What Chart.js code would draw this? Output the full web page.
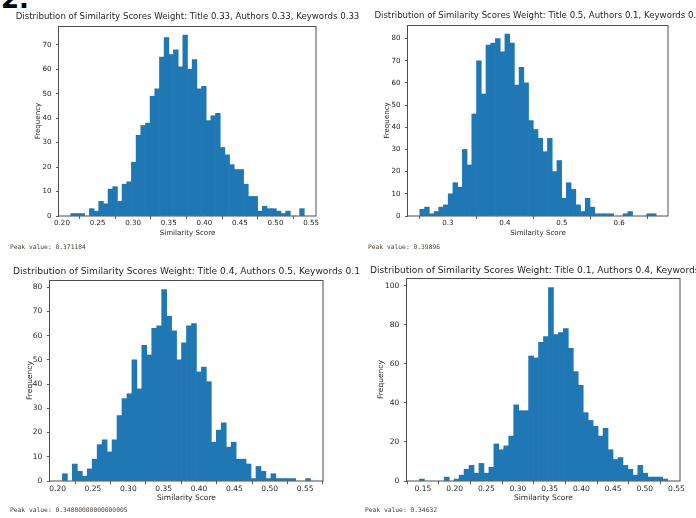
<!DOCTYPE html>
<html>
<head>
<meta charset="utf-8">
<script src="https://cdn.jsdelivr.net/npm/chart.js@4.4.1/dist/chart.umd.min.js"></script>
<style>
  html, body { margin:0; padding:0; background:#ffffff; width:696px; height:518px; overflow:hidden; }
  body { position:relative; font-family:'DejaVu Sans', sans-serif; }
  canvas { position:absolute; }
  .heading { position:absolute; left:1px; top:-14px; font-family:'DejaVu Sans', sans-serif; font-weight:bold; font-size:26px; line-height:1; color:#000; }
  .peak { position:absolute; font-family:'DejaVu Sans Mono', monospace; font-size:6.3px; line-height:1; color:#4a4038; white-space:pre; }
</style>
</head>
<body>
<div class="heading">2.</div>
<canvas id="hist1"></canvas>
<canvas id="hist2"></canvas>
<canvas id="hist3"></canvas>
<canvas id="hist4"></canvas>
<script>
// ---------------- data ----------------
const chartTitles = [
  'Distribution of Similarity Scores Weight: Title 0.33, Authors 0.33, Keywords 0.33',
  'Distribution of Similarity Scores Weight: Title 0.5, Authors 0.1, Keywords 0.4',
  'Distribution of Similarity Scores Weight: Title 0.4, Authors 0.5, Keywords 0.1',
  'Distribution of Similarity Scores Weight: Title 0.1, Authors 0.4, Keywords 0.5'
];
const xAxisLabel = 'Similarity Score';
const yAxisLabel = 'Frequency';
const peakValues = ['0.371184', '0.39896', '0.34880000000000005', '0.34632'];

// lowest and highest bin edge of each histogram (50 bins)
const binEdges1 = [0.2122, 0.5405];
const binEdges2 = [0.2510, 0.6650];
const binEdges3 = [0.2068, 0.5578];
const binEdges4 = [0.1444, 0.5360];

const frequencies1 = [1,1,1,0,3,2,6,5,11,12, 6,13,14,22,33,37,38,49,52,65, 73,66,68,61,74,60,64,52,53,39, 41,42,28,25,21,19,19,13,8,8, 2,4,3,3,2,1,2,0,0,3];
const frequencies2 = [3,4,1,2,4,5,10,15,13,30, 23,46,70,55,77,78,80,74,82,78, 59,67,60,43,39,35,29,35,20,25, 8,15,12,5,2,8,4,1,1,1, 1,0,0,1,2,0,0,0,1,1];
const frequencies3 = [3,0,7,4,2,5,9,15,17,12, 17,27,34,36,50,38,56,52,63,64, 79,68,62,50,57,64,65,45,47,41, 16,21,24,14,16,9,9,7,1,6, 4,1,3,1,1,1,1,0,0,1];
const frequencies4 = [1,0,0,0,0,2,0,1,3,6, 8,4,9,4,7,19,16,18,23,39, 36,36,64,63,71,74,99,75,76,78, 68,56,49,35,31,28,23,27,16,11, 12,8,6,3,8,4,2,2,2,1];

const xTickLabels1 = ['0.20','0.25','0.30','0.35','0.40','0.45','0.50','0.55'];
const xTickLabels2 = ['0.3','0.4','0.5','0.6'];
const xTickLabels3 = ['0.20','0.25','0.30','0.35','0.40','0.45','0.50','0.55'];
const xTickLabels4 = ['0.15','0.20','0.25','0.30','0.35','0.40','0.45','0.50','0.55'];

const yTickLabels1 = ['0','10','20','30','40','50','60','70'];
const yTickLabels2 = ['0','10','20','30','40','50','60','70','80'];
const yTickLabels3 = ['0','10','20','30','40','50','60','70','80'];
const yTickLabels4 = ['0','20','40','60','80','100'];

// ---------------- layout & style ----------------
const FONT = "'DejaVu Sans', sans-serif";
const TEXT_COLOR = '#262626';
const BAR_COLOR = '#1f77b4';

// box: canvas [left, top, width, height]; area: axes [left, top, right, bottom] (page px)
const panels = [
  { box:[0, 0, 375, 259],     area:[59, 26, 316, 216],  yTitleX:38,  xTitleY:233,   peak:[10, 244], scale:1.0,  titleGap:7 },
  { box:[348, 0, 380, 259],   area:[408, 25, 668, 216], yTitleX:387, xTitleY:233,   peak:[368, 244], scale:1.0, titleGap:7 },
  { box:[0, 259, 373, 259],   area:[50, 280, 323, 481], yTitleX:30,  xTitleY:498.5, peak:[10, 507], scale:1.06, titleGap:6 },
  { box:[348, 259, 391, 259], area:[407, 278, 680, 481], yTitleX:381, xTitleY:498.5, peak:[365, 507], scale:1.06, titleGap:5 }
];

const decorPlugin = {
  id: 'mplDecor',
  afterDraw(chart, args, opts) {
    const { ctx, chartArea: ca } = chart;
    ctx.save();
    ctx.strokeStyle = '#4d4d4d';
    ctx.lineWidth = 1;
    ctx.strokeRect(Math.round(ca.left) - 0.5, Math.round(ca.top) + 0.5,
                   Math.round(ca.right) - Math.round(ca.left) + 0.5,
                   Math.round(ca.bottom) - Math.round(ca.top) - 0.5);
    ctx.font = opts.size + 'px ' + FONT;
    ctx.fillStyle = TEXT_COLOR;
    ctx.textAlign = 'center';
    ctx.textBaseline = 'alphabetic';
    ctx.fillText(opts.text, (ca.left + ca.right) / 2, ca.top - opts.gap);
    ctx.restore();
  }
};

function buildHistogram(canvasId, panel, title, binEdges, freqs, xTicks, yTicks) {
  const canvas = document.getElementById(canvasId);
  const [bx, by, bw, bh] = panel.box;
  canvas.width = bw; canvas.height = bh;
  canvas.style.left = bx + 'px'; canvas.style.top = by + 'px';
  canvas.style.width = bw + 'px'; canvas.style.height = bh + 'px';

  const tickSize = 7.1 * panel.scale;
  const labelSize = 7.1 * panel.scale;
  const titleSize = 8.6 * panel.scale;

  const n = freqs.length;
  const binW = (binEdges[1] - binEdges[0]) / n;
  const points = freqs.map((f, i) => ({ x: binEdges[0] + (i + 0.5) * binW, y: f }));
  const span = binEdges[1] - binEdges[0];
  const xMin = binEdges[0] - span * 0.05;
  const xMax = binEdges[1] + span * 0.05;
  const yMax = Math.max(...freqs) * 1.05;

  const l = panel.area[0] - bx, t = panel.area[1] - by, r = panel.area[2] - bx, b = panel.area[3] - by;
  const lh = labelSize * 1.2;
  const padLeft = (panel.yTitleX - bx) - lh / 2;
  const yWidth = l - padLeft;
  const xBottom = (panel.xTitleY - by) + lh / 2;
  const xHeight = xBottom - b;

  const tickFont = { family: FONT, size: tickSize };
  const labelFont = { family: FONT, size: labelSize };
  const gridOpts = { display: true, drawOnChartArea: false, drawTicks: true, tickLength: 3 * panel.scale, tickColor: '#333333', tickWidth: 0.8 };

  return new Chart(canvas, {
    type: 'bar',
    data: {
      datasets: [{
        data: points,
        backgroundColor: c => (c.raw && c.raw.y > 0) ? BAR_COLOR : 'rgba(0,0,0,0)',
        borderWidth: 0,
        barPercentage: 1,
        categoryPercentage: 1,
        grouped: false
      }]
    },
    options: {
      responsive: false,
      animation: false,
      devicePixelRatio: 1,
      layout: { padding: { left: padLeft, right: bw - r, top: t, bottom: bh - xBottom } },
      plugins: {
        legend: { display: false },
        tooltip: { enabled: false },
        title: { display: false },
        mplDecor: { text: title, gap: panel.titleGap, size: titleSize }
      },
      scales: {
        x: {
          type: 'linear',
          min: xMin, max: xMax,
          offset: false,
          grid: gridOpts,
          border: { display: false },
          afterBuildTicks: s => { s.ticks = xTicks.map(v => ({ value: parseFloat(v) })); },
          afterFit: s => { s.height = xHeight; },
          ticks: { callback: (v, i) => xTicks[i], autoSkip: false, maxRotation: 0, minRotation: 0, font: tickFont, color: TEXT_COLOR, padding: 0 },
          title: { display: true, text: xAxisLabel, font: labelFont, color: TEXT_COLOR, padding: 0 }
        },
        y: {
          type: 'linear',
          min: 0, max: yMax,
          grid: gridOpts,
          border: { display: false },
          afterBuildTicks: s => { s.ticks = yTicks.map(v => ({ value: parseFloat(v) })); },
          afterFit: s => { s.width = yWidth; },
          ticks: { callback: (v, i) => yTicks[i], autoSkip: false, font: tickFont, color: TEXT_COLOR, padding: 4.5 },
          title: { display: true, text: yAxisLabel, font: labelFont, color: TEXT_COLOR, padding: 0 }
        }
      }
    },
    plugins: [decorPlugin]
  });
}

buildHistogram('hist1', panels[0], chartTitles[0], binEdges1, frequencies1, xTickLabels1, yTickLabels1);
buildHistogram('hist2', panels[1], chartTitles[1], binEdges2, frequencies2, xTickLabels2, yTickLabels2);
buildHistogram('hist3', panels[2], chartTitles[2], binEdges3, frequencies3, xTickLabels3, yTickLabels3);
buildHistogram('hist4', panels[3], chartTitles[3], binEdges4, frequencies4, xTickLabels4, yTickLabels4);

panels.forEach((p, i) => {
  const d = document.createElement('div');
  d.className = 'peak';
  d.style.left = p.peak[0] + 'px';
  d.style.top = p.peak[1] + 'px';
  d.textContent = 'Peak value: ' + peakValues[i];
  document.body.appendChild(d);
});
</script>
</body>
</html>
